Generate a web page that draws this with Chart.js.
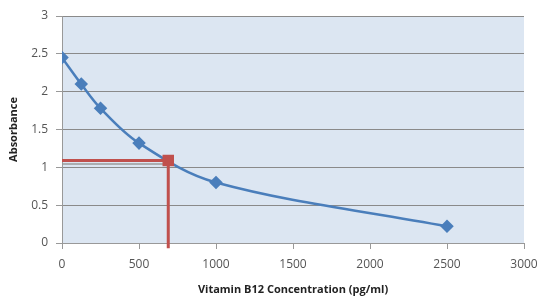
<!DOCTYPE html>
<html>
<head>
<meta charset="utf-8">
<script src="https://cdn.jsdelivr.net/npm/chart.js@4.4.0/dist/chart.umd.min.js"></script>
<style>
  html, body { margin: 0; padding: 0; background: #fff; }
  #wrap { width: 542px; height: 300px; position: relative; }
</style>
</head>
<body>
<div id="wrap"><canvas id="chart"></canvas></div>
<script>
// standard curve values
var concentrations = [0, 125, 250, 500, 1000, 2500];
var absorbance = [2.45, 2.1, 1.78, 1.32, 0.8, 0.22];

// sample read-off
var sampleConc = 690;
var sampleAbs = 1.09;
var lineBottom = -0.07;

var xTicks = [0, 500, 1000, 1500, 2000, 2500, 3000];
var yTicks = [0, 0.5, 1, 1.5, 2, 2.5, 3];

var curve = concentrations.map(function(c, i) { return { x: c, y: absorbance[i] }; });
var readLine = [
  { x: 0, y: sampleAbs },
  { x: sampleConc, y: sampleAbs },
  { x: sampleConc, y: lineBottom }
];

// light blue plot area fill
var plotBg = {
  id: 'plotBg',
  beforeDraw: function(chart) {
    var a = chart.chartArea, ctx = chart.ctx;
    ctx.save();
    ctx.fillStyle = '#dce6f2';
    ctx.fillRect(a.left, a.top, a.right - a.left, a.bottom - a.top);
    ctx.restore();
  }
};

var tickFont = { family: 'Open Sans', size: 12 };
var plainNum = function(v) { return String(v); };

new Chart(document.getElementById('chart'), {
  type: 'scatter',
  data: {
    datasets: [
      {
        label: 'Standard',
        data: curve,
        showLine: true,
        borderColor: '#4a7ebb',
        backgroundColor: '#4a7ebb',
        borderWidth: 2.5,
        tension: 0.35,
        pointStyle: 'rectRot',
        pointRadius: 5,
        pointHoverRadius: 5,
        order: 2
      },
      {
        label: 'Shadow',
        data: [{ x: 0, y: sampleAbs - 0.045 }, { x: sampleConc - 10, y: sampleAbs - 0.045 }],
        showLine: true,
        borderColor: 'rgba(150,150,150,0.7)',
        borderWidth: 2,
        pointRadius: 0,
        order: 3
      },
      {
        label: 'Sample',
        data: readLine,
        showLine: true,
        borderColor: '#c0504d',
        backgroundColor: '#c0504d',
        borderWidth: 3,
        tension: 0,
        clip: false,
        pointStyle: 'rect',
        pointRadius: [0, 6, 0],
        pointHoverRadius: [0, 6, 0],
        order: 1
      }
    ]
  },
  options: {
    responsive: true,
    maintainAspectRatio: false,
    animation: false,
    layout: { padding: { top: 16, right: 18, left: 7, bottom: 0 } },
    plugins: {
      legend: { display: false },
      tooltip: { enabled: false }
    },
    scales: {
      x: {
        type: 'linear',
        min: 0,
        max: 3000,
        afterBuildTicks: function(scale) {
          scale.ticks = xTicks.map(function(v) { return { value: v }; });
        },
        afterFit: function(scale) {
          scale.height = 57;
          scale.paddingRight = 0;
          scale.paddingLeft = 0;
        },
        grid: {
          drawOnChartArea: false,
          drawTicks: true,
          tickLength: 6,
          color: '#999'
        },
        border: { color: '#999' },
        ticks: { color: '#555', font: tickFont, padding: 8, maxRotation: 0, callback: plainNum },
        title: {
          display: true,
          text: 'Vitamin B12 Concentration (pg/ml)',
          color: '#222',
          font: { family: 'Open Sans', size: 11, weight: 'bold' },
          padding: { top: 2 }
        }
      },
      y: {
        type: 'linear',
        min: 0,
        max: 3,
        afterBuildTicks: function(scale) {
          scale.ticks = yTicks.map(function(v) { return { value: v }; });
        },
        afterFit: function(scale) { scale.width = 55; },
        grid: {
          color: '#8a8a8a',
          tickLength: 6,
          tickColor: '#999'
        },
        border: { color: '#999' },
        ticks: { color: '#555', font: tickFont, padding: 8, callback: plainNum },
        title: {
          display: true,
          text: 'Absorbance',
          color: '#222',
          font: { family: 'Open Sans', size: 11, weight: 'bold' },
          padding: { top: 0, bottom: 0 }
        }
      }
    }
  },
  plugins: [plotBg]
});
</script>
</body>
</html>
